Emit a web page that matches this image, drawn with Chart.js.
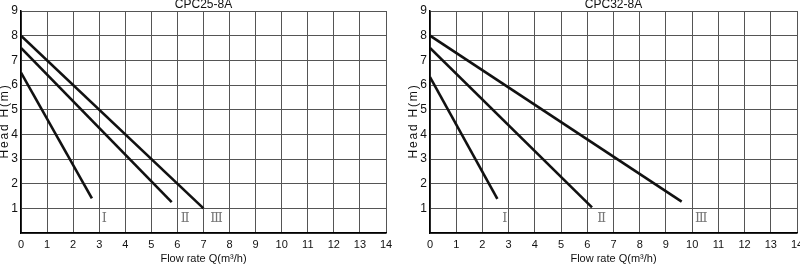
<!DOCTYPE html>
<html>
<head>
<meta charset="utf-8">
<script src="https://cdn.jsdelivr.net/npm/chart.js@4/dist/chart.umd.min.js"></script>
<style>
  body { margin: 0; background: #fff; }
  .box { position: absolute; top: 0; width: 400px; height: 264px; }
</style>
</head>
<body>
<div class="box" style="left:0"><canvas id="left-chart"></canvas></div>
<div class="box" style="left:400px"><canvas id="right-chart"></canvas></div>
<script>
// Curve end points, flow rate Q (m3/h) and head H (m)
const leftTitle = "CPC25-8A";
const leftQ1 = [0, 2.72];
const leftH1 = [6.5, 1.4];
const leftQ2 = [0, 5.78];
const leftH2 = [7.5, 1.25];
const leftQ3 = [0, 7.0];
const leftH3 = [8.0, 1.0];

const rightTitle = "CPC32-8A";
const rightQ1 = [0, 2.57];
const rightH1 = [6.32, 1.38];
const rightQ2 = [0, 6.18];
const rightH2 = [7.5, 1.04];
const rightQ3 = [0, 9.6];
const rightH3 = [8.0, 1.27];

// speed markers
const speedNames = ["Ⅰ", "Ⅱ", "Ⅲ"];
const leftSpeedQ = [3.2, 6.3, 7.5];
const rightSpeedQ = [2.85, 6.55, 10.35];
const speedH = [0.6, 0.6, 0.6];

const xTicksMax = 14;
const yTicksMax = 9;
const yAxisTitle = "Head H(m)";

const fontFamily = "'Liberation Sans Narrow', 'Liberation Sans', Arial, sans-serif";

const toPoints = (qs, hs) => qs.map((q, i) => ({x: q, y: hs[i]}));

// draws the roman speed labels at data positions
const speedLabels = {
    id: "speedLabels",
    afterDatasetsDraw(chart, args, opts) {
        const {ctx, scales} = chart;
        ctx.save();
        ctx.font = "13px 'Liberation Serif', 'DejaVu Serif', serif";
        ctx.fillStyle = "#777";
        ctx.textAlign = "center";
        ctx.textBaseline = "middle";
        opts.q.forEach((q, i) => {
            ctx.fillText(speedNames[i], scales.x.getPixelForValue(q), scales.y.getPixelForValue(speedH[i]));
        });
        ctx.restore();
    }
};

// y axis title with wider letter spacing than the built in one allows
const spacedYTitle = {
    id: "spacedYTitle",
    afterDraw(chart, args, opts) {
        const {ctx, chartArea} = chart;
        ctx.save();
        ctx.translate(opts.x, (chartArea.top + chartArea.bottom) / 2);
        ctx.rotate(-Math.PI / 2);
        ctx.font = "12px 'Liberation Sans', Arial, sans-serif";
        ctx.letterSpacing = "1.8px";
        ctx.fillStyle = "#111";
        ctx.textAlign = "center";
        ctx.textBaseline = "middle";
        ctx.fillText(yAxisTitle, 1, 0);
        ctx.restore();
    }
};

const createCurveChart = (canvasId, title, curves, speedQ, padLeft, padRight) => {
    const datasets = curves.map(([qs, hs]) => ({
        data: toPoints(qs, hs),
        borderColor: "#111",
        borderWidth: 2.6,
        pointRadius: 0,
        fill: false
    }));

    return new Chart(document.getElementById(canvasId), {
        type: "line",
        data: {datasets},
        plugins: [speedLabels, spacedYTitle],
        options: {
            responsive: true,
            maintainAspectRatio: false,
            animation: false,
            layout: {padding: {left: padLeft, right: padRight, top: 0, bottom: 0}},
            plugins: {
                legend: {display: false},
                tooltip: {enabled: false},
                title: {
                    display: true,
                    fullSize: false,
                    text: title,
                    color: "#111",
                    font: {family: fontFamily, size: 12, weight: "normal", lineHeight: 1},
                    padding: {top: -1.5, bottom: 0.5}
                },
                speedLabels: {q: speedQ},
                spacedYTitle: {x: padLeft + 5}
            },
            scales: {
                x: {
                    type: "linear",
                    min: 0,
                    max: xTicksMax,
                    afterFit: (s) => { s.height = 31; s.paddingRight = 0; s.paddingLeft = 0; },
                    grid: {color: "#555", lineWidth: 1, drawTicks: false},
                    border: {color: "#000", width: 1.5},
                    ticks: {stepSize: 1, color: "#111", padding: 5, font: {family: fontFamily, size: 11}},
                    title: {
                        display: true,
                        text: "Flow rate Q(m³/h)",
                        color: "#111",
                        font: {family: fontFamily, size: 11, lineHeight: 1},
                        padding: {top: 0, bottom: 0}
                    }
                },
                y: {
                    min: 0,
                    max: yTicksMax,
                    afterFit: (s) => { s.width = 21; },
                    grid: {color: "#555", lineWidth: 1, drawTicks: false},
                    border: {color: "#000", width: 1.5},
                    ticks: {
                        stepSize: 1,
                        color: "#111",
                        padding: 3,
                        font: {family: fontFamily, size: 12},
                        callback: (v) => v === 0 ? "" : v
                    }
                }
            }
        }
    });
};

createCurveChart("left-chart", leftTitle,
    [[leftQ1, leftH1], [leftQ2, leftH2], [leftQ3, leftH3]], leftSpeedQ, 0, 14);
createCurveChart("right-chart", rightTitle,
    [[rightQ1, rightH1], [rightQ2, rightH2], [rightQ3, rightH3]], rightSpeedQ, 9, 3);
</script>
</body>
</html>
